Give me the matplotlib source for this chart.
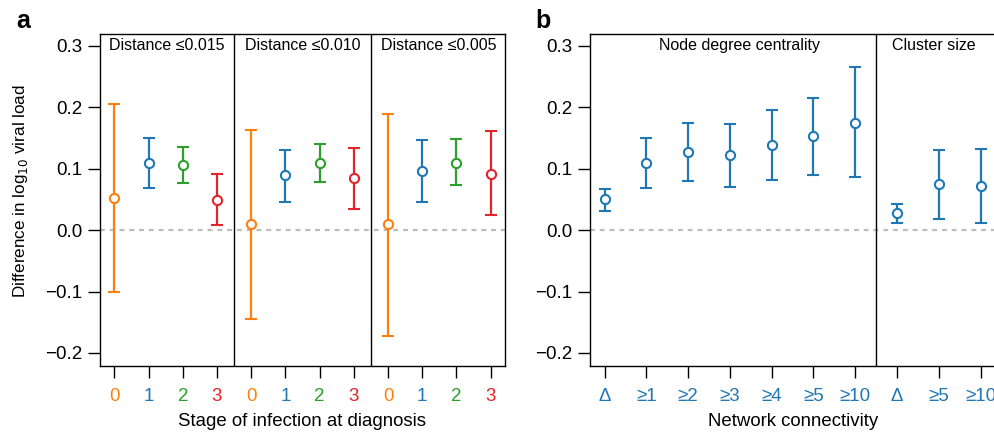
import matplotlib
matplotlib.use("Agg")
import matplotlib.pyplot as plt

plt.rcParams['font.family'] = ['Liberation Sans', 'DejaVu Sans']
plt.rcParams['font.size'] = 11.5

# colours
orange = '#FF7F0E'
blue = '#1F77B4'
green = '#2CA02C'
red = '#E3242B'

# Panel a: stage of infection within three distance thresholds
stage_labels = ['0', '1', '2', '3']
stage_colors = [orange, blue, green, red]
distance_titles = ['Distance \u22640.015', 'Distance \u22640.010', 'Distance \u22640.005']
a_est = [0.052, 0.109, 0.106, 0.049,
         0.010, 0.090, 0.110, 0.085,
         0.010, 0.097, 0.110, 0.092]
a_low = [-0.101, 0.068, 0.077, 0.008,
         -0.144, 0.046, 0.079, 0.035,
         -0.172, 0.046, 0.073, 0.024]
a_high = [0.205, 0.150, 0.136, 0.091,
          0.163, 0.131, 0.141, 0.134,
          0.190, 0.147, 0.148, 0.162]

# Panel b: network connectivity
b_labels = ['\u0394', '\u22651', '\u22652', '\u22653', '\u22654', '\u22655', '\u226510',
            '\u0394', '\u22655', '\u226510']
b_titles = ['Node degree centrality', 'Cluster size']
b_est = [0.050, 0.109, 0.127, 0.122, 0.138, 0.153, 0.175, 0.028, 0.075, 0.072]
b_low = [0.032, 0.068, 0.080, 0.071, 0.082, 0.090, 0.086, 0.011, 0.018, 0.011]
b_high = [0.067, 0.150, 0.174, 0.173, 0.196, 0.216, 0.266, 0.043, 0.131, 0.133]

W, H = 995, 432
fig = plt.figure(figsize=(W / 100, H / 100), dpi=100)

ax_a = fig.add_axes([100 / W, (H - 366) / H, 405 / W, 332 / H])
ax_b = fig.add_axes([590 / W, (H - 366) / H, 406 / W, 332 / H])

ylim = (-0.2212, 0.3195)
TICK_FS = 13.5
LABEL_FS = 13.4


def draw_ci(ax, x, est, lo, hi, color):
    ax.errorbar([x], [est], yerr=[[est - lo], [hi - est]], fmt='o', color=color,
                ms=6.6, mew=1.5, mfc='white', mec=color, elinewidth=1.6,
                capsize=4.6, capthick=1.6, zorder=3)


def style_axes(ax):
    ax.set_ylim(*ylim)
    ax.set_yticks([-0.2, -0.1, 0.0, 0.1, 0.2, 0.3])
    ax.set_yticklabels(['\u22120.2', '\u22120.1', '0.0', '0.1', '0.2', '0.3'])
    ax.tick_params(axis='both', direction='out', length=8.5, width=1, color='black',
                   labelsize=TICK_FS)
    ax.tick_params(axis='y', pad=4)
    ax.tick_params(axis='x', pad=7)
    for s in ax.spines.values():
        s.set_linewidth(1)
    ax.axhline(0, color='#BDBDBD', lw=1.6, ls=(0, (2.2, 2.2)), zorder=1)


# ---- panel a
xa = list(range(1, 13))
for i, x in enumerate(xa):
    draw_ci(ax_a, x, a_est[i], a_low[i], a_high[i], stage_colors[i % 4])
ax_a.set_xlim(0.58, 12.42)
style_axes(ax_a)
ax_a.set_xticks(xa)
ax_a.set_xticklabels(stage_labels * 3)
for i, t in enumerate(ax_a.get_xticklabels()):
    t.set_color(stage_colors[i % 4])
for xv in [4.5, 8.5]:
    ax_a.axvline(xv, color='black', lw=1, zorder=2)
for k, title in enumerate(distance_titles):
    ax_a.text(2.53 + 3.97 * k, 0.3, title, ha='center', va='center')
ax_a.set_xlabel('Stage of infection at diagnosis', fontsize=LABEL_FS, labelpad=6)

# ---- panel b
xb = list(range(1, 11))
for i, x in enumerate(xb):
    draw_ci(ax_b, x, b_est[i], b_low[i], b_high[i], blue)
ax_b.set_xlim(0.65, 10.37)
style_axes(ax_b)
ax_b.spines['right'].set_visible(False)
ax_b.set_xticks(xb)
ax_b.set_xticklabels(b_labels)
for t in ax_b.get_xticklabels():
    t.set_color(blue)
ax_b.axvline(7.5, color='black', lw=1, zorder=2)
ax_b.text(4.22, 0.3, b_titles[0], ha='center', va='center')
ax_b.text(8.88, 0.3, b_titles[1], ha='center', va='center')
ax_b.set_xlabel('Network connectivity', fontsize=LABEL_FS, labelpad=6)

fig.text(21 / W, 1 - 191 / H, 'Difference in log$_{10}$ viral load',
         rotation=90, ha='center', va='center', fontsize=12.3)
fig.text(16 / W, 1 - 28 / H, 'a', fontsize=18, fontweight='bold', ha='left', va='baseline')
fig.text(535 / W, 1 - 28 / H, 'b', fontsize=18, fontweight='bold', ha='left', va='baseline')

fig.savefig('out.png', dpi=100)
